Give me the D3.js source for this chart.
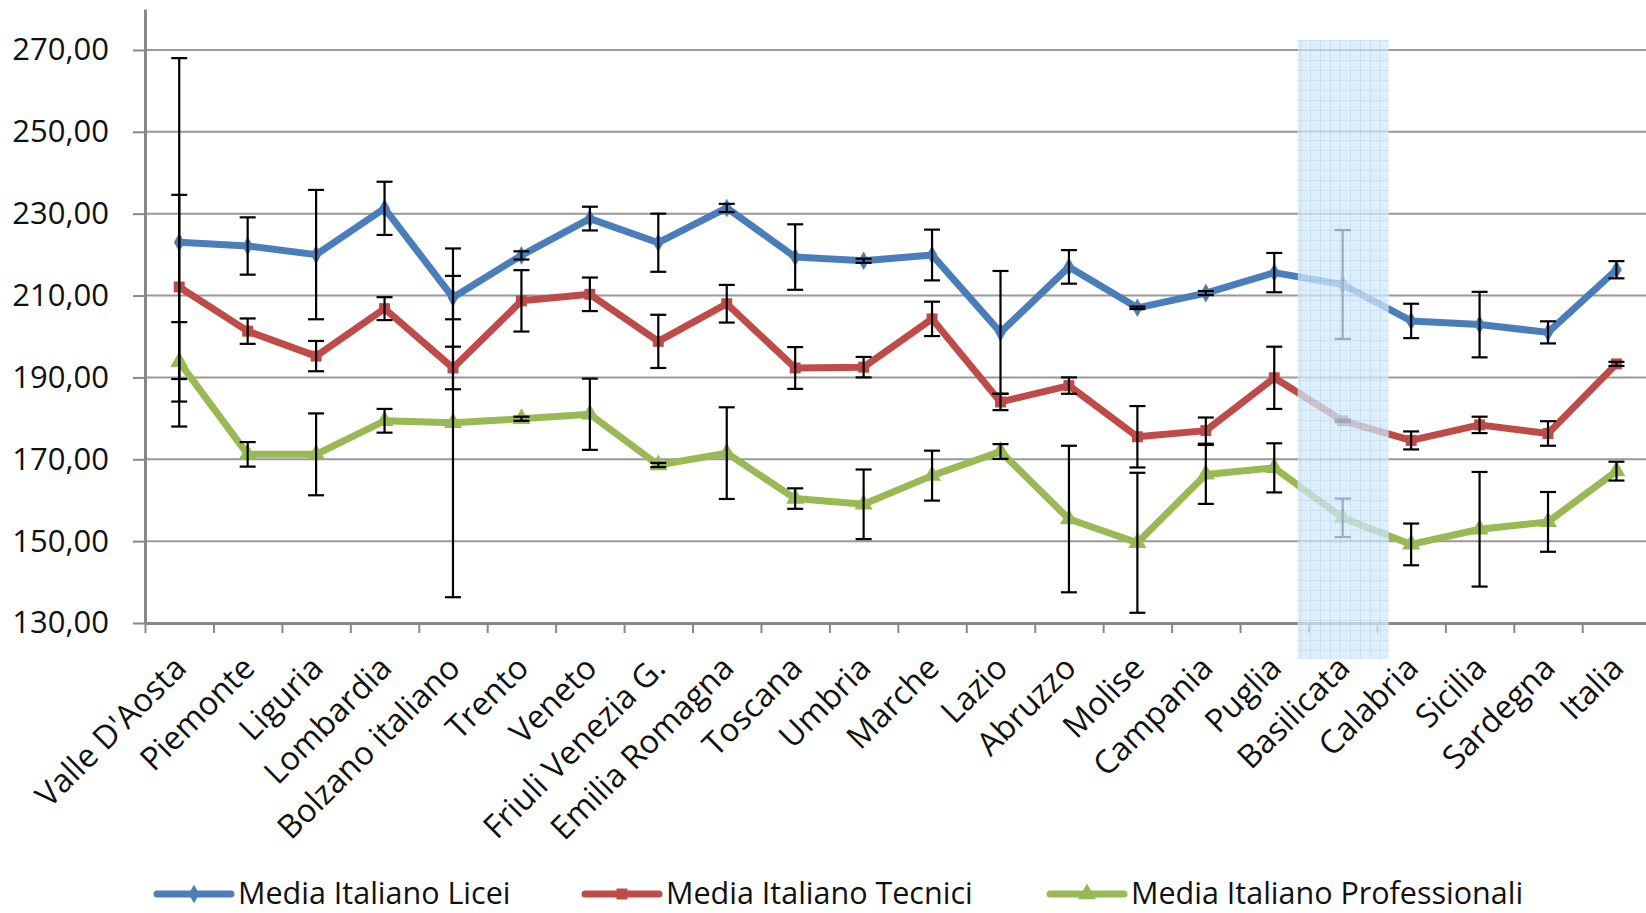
<!DOCTYPE html>
<html>
<head>
<meta charset="utf-8">
<script src="https://cdn.jsdelivr.net/npm/d3@7"></script>
<style>
  body { margin: 0; background: #fff; }
  svg { display: block; }
</style>
</head>
<body>
<div id="my_dataviz"></div>
<script>
// categories on the x axis
var regions = ["Valle D'Aosta", "Piemonte", "Liguria", "Lombardia", "Bolzano italiano", "Trento",
  "Veneto", "Friuli Venezia G.", "Emilia Romagna", "Toscana", "Umbria", "Marche", "Lazio",
  "Abruzzo", "Molise", "Campania", "Puglia", "Basilicata", "Calabria", "Sicilia", "Sardegna", "Italia"];

// series means and error amounts
var licei = [223.0, 222.1, 220.0, 231.3, 209.5, 219.8, 228.8, 222.9, 231.4, 219.4, 218.5,
  219.9, 201.0, 217.0, 207.0, 210.6, 215.6, 212.7, 203.8, 202.9, 201.0, 216.3];
var liceiErr = [45, 7, 15.8, 6.5, 5.3, 1, 2.9, 7.1, 1, 8, 0.5, 6.2, 15, 4.1, 0.3, 0.5,
  4.8, 13.3, 4.2, 8, 2.7, 2.1];

var tecnici = [212.1, 201.3, 195.2, 206.8, 192.3, 208.7, 210.3, 198.8, 208.0, 192.3, 192.5,
  204.3, 184.0, 188.0, 175.5, 177.0, 189.9, 179.4, 174.6, 178.4, 176.3, 193.3];
var tecniciErr = [22.5, 3.1, 3.7, 2.8, 5.2, 7.5, 4.1, 6.5, 4.6, 5.1, 2.5, 4.2, 2.0, 2.0,
  7.5, 3.2, 7.6, 0.3, 2.2, 2.0, 3.0, 0.5];

var professionali = [193.8, 171.2, 171.2, 179.4, 178.9, 179.9, 181.0, 168.6, 171.5, 160.4,
  159.0, 166.0, 171.9, 155.4, 149.6, 166.3, 167.9, 155.7, 149.2, 152.9, 154.7, 167.1];
var professionaliErr = [9.7, 3, 10, 2.9, 42.6, 0.5, 8.7, 0.5, 11.2, 2.5, 8.5, 6.1, 1.8,
  17.9, 17.1, 7.2, 6, 4.7, 5.1, 14, 7.3, 2.3];

var seriesNames = ["Media Italiano Licei", "Media Italiano Tecnici", "Media Italiano Professionali"];
var yTicks = [130, 150, 170, 190, 210, 230, 250, 270];
var highlighted = "Basilicata";

// size of the page
var width = 1646, height = 913;
var left = 145, band = 68.44;

var svg = d3.select("#my_dataviz")
  .append("svg")
    .attr("width", width)
    .attr("height", height);

var font = "'Open Sans', 'DejaVu Sans', sans-serif";

// scales
var x = d3.scaleBand()
  .domain(regions)
  .range([left, left + regions.length * band])
  .padding(0);
var cx = function(d) { return x(d) + x.bandwidth() / 2; };

var y = d3.scaleLinear()
  .domain([130, 280])
  .range([623, 9]);

// gridlines
svg.append("g")
  .selectAll("line")
  .data(yTicks.slice(1))
  .enter().append("line")
    .attr("x1", left)
    .attr("x2", width)
    .attr("y1", function(d) { return y(d); })
    .attr("y2", function(d) { return y(d); })
    .attr("stroke", "#999")
    .attr("stroke-width", 2);

// Y axis
var yAxis = svg.append("g")
  .attr("transform", "translate(" + left + ",0)")
  .call(d3.axisLeft(y)
    .tickValues(yTicks)
    .tickSize(12)
    .tickSizeOuter(0)
    .tickPadding(24)
    .tickFormat(function(d) { return d.toFixed(2).replace(".", ","); }));
yAxis.select(".domain").attr("stroke", "#888").attr("stroke-width", 3);
yAxis.selectAll(".tick line").attr("stroke", "#888").attr("stroke-width", 2);
yAxis.selectAll("text")
  .attr("fill", "#111")
  .style("font-family", font)
  .style("font-size", "31px");

// X axis (ticks between categories)
var xb = d3.scaleLinear().domain([0, regions.length]).range(x.range());
var xAxis = svg.append("g")
  .attr("transform", "translate(0," + y(130) + ")")
  .call(d3.axisBottom(xb)
    .tickValues(d3.range(0, regions.length + 1))
    .tickSize(10)
    .tickSizeOuter(0)
    .tickFormat(""));
xAxis.select(".domain").attr("stroke", "#888").attr("stroke-width", 3);
xAxis.selectAll(".tick line").attr("stroke", "#888").attr("stroke-width", 2);

// category labels, rotated
svg.append("g")
  .selectAll("text")
  .data(regions)
  .enter().append("text")
    .attr("transform", function(d) { return "translate(" + (cx(d) + 1) + "," + (y(130) + 39) + ") rotate(-45)"; })
    .attr("text-anchor", "end")
    .attr("dy", "0.35em")
    .attr("fill", "#111")
    .style("font-family", font)
    .style("font-size", "32.5px")
    .text(function(d) { return d; });

// series
var series = [
  {name: seriesNames[0], values: licei, err: liceiErr, color: "#4a7ebb", marker: d3.symbolDiamond, size: 100},
  {name: seriesNames[1], values: tecnici, err: tecniciErr, color: "#be4b48", marker: d3.symbolSquare, size: 120},
  {name: seriesNames[2], values: professionali, err: professionaliErr, color: "#98b954", marker: d3.symbolTriangle, size: 140}
];

var line = d3.line()
  .x(function(d, i) { return cx(regions[i]); })
  .y(function(d) { return y(d); });

series.forEach(function(s) {
  svg.append("path")
    .datum(s.values)
    .attr("fill", "none")
    .attr("stroke", s.color)
    .attr("stroke-width", 7)
    .attr("stroke-linejoin", "round")
    .attr("d", line);

  svg.append("g")
    .selectAll("path")
    .data(s.values)
    .enter().append("path")
      .attr("transform", function(d, i) { return "translate(" + cx(regions[i]) + "," + y(d) + ")"; })
      .attr("d", d3.symbol().type(s.marker).size(s.size))
      .attr("fill", s.color);
});

// error bars
series.forEach(function(s) {
  var g = svg.append("g").attr("stroke", "#000").attr("stroke-width", 2.2);
  s.values.forEach(function(v, i) {
    var c = cx(regions[i]), hi = y(v + s.err[i]), lo = y(v - s.err[i]);
    g.append("line").attr("x1", c).attr("x2", c).attr("y1", hi).attr("y2", lo);
    g.append("line").attr("x1", c - 8).attr("x2", c + 8).attr("y1", hi).attr("y2", hi);
    g.append("line").attr("x1", c - 8).attr("x2", c + 8).attr("y1", lo).attr("y2", lo);
  });
});

// highlight box over Basilicata
var defs = svg.append("defs");
var pat = defs.append("pattern")
  .attr("id", "hatch")
  .attr("width", 10)
  .attr("height", 10)
  .attr("patternUnits", "userSpaceOnUse");
pat.append("rect").attr("width", 10).attr("height", 10).attr("fill", "#d3e8f8");
pat.append("path").attr("d", "M0,0.5H10M0.5,0V10").attr("stroke", "#b8d7f0").attr("stroke-width", 1);

svg.append("rect")
  .attr("x", cx(highlighted) - 45)
  .attr("y", 40)
  .attr("width", 91)
  .attr("height", 619)
  .attr("fill", "url(#hatch)")
  .attr("opacity", 0.75);

// legend
var legX = [157, 585, 1050];
var legend = svg.selectAll(".legend")
  .data(series)
  .enter().append("g")
    .attr("class", "legend")
    .attr("transform", function(d, i) { return "translate(" + legX[i] + ",894)"; });

legend.append("line")
  .attr("x1", 0).attr("x2", 74)
  .attr("stroke", function(d) { return d.color; })
  .attr("stroke-width", 7)
  .attr("stroke-linecap", "round");
legend.append("path")
  .attr("transform", "translate(37,0)")
  .attr("d", function(d) { return d3.symbol().type(d.marker).size(d.size)(); })
  .attr("fill", function(d) { return d.color; });
legend.append("text")
  .attr("x", 81)
  .attr("y", 10)
  .attr("fill", "#111")
  .style("font-family", font)
  .style("font-size", "30.5px")
  .text(function(d) { return d.name; });
</script>
</body>
</html>
